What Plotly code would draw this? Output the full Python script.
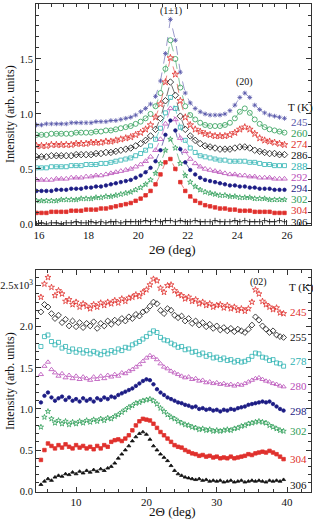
import plotly.graph_objects as go

# ---------------- top panel data (intensity in units of 1e4) ----------------
two_theta_top = [15.9, 16.1, 16.3, 16.5, 16.7, 16.9, 17.1, 17.3, 17.5, 17.7,
                 17.9, 18.1, 18.3, 18.5, 18.7, 18.9, 19.1, 19.3, 19.5, 19.7,
                 19.9, 20.1, 20.3, 20.5, 20.7, 20.9, 21.1, 21.3, 21.5, 21.7,
                 21.9, 22.1, 22.3, 22.5, 22.7, 22.9, 23.1, 23.3, 23.5, 23.7,
                 23.9, 24.1, 24.3, 24.5, 24.7, 24.9, 25.1, 25.3, 25.5, 25.7,
                 25.9]

top_T = ["245", "260", "274", "286", "288", "292", "294", "302", "304", "306"]

top_245 = [0.90, 0.90, 0.91, 0.91, 0.91, 0.91, 0.91, 0.92, 0.92, 0.92,
           0.92, 0.92, 0.93, 0.93, 0.93, 0.94, 0.94, 0.95, 0.96, 0.97,
           0.99, 1.02, 1.05, 1.09, 1.16, 1.30, 1.55, 1.86, 1.67, 1.38,
           1.19, 1.10, 1.05, 1.02, 1.00, 0.99, 0.99, 0.99, 1.00, 1.03,
           1.08, 1.15, 1.19, 1.15, 1.08, 1.04, 1.01, 0.99, 0.98, 0.97,
           0.96]
top_260 = [0.81, 0.81, 0.81, 0.82, 0.82, 0.82, 0.82, 0.82, 0.83, 0.83,
           0.83, 0.83, 0.84, 0.84, 0.85, 0.85, 0.86, 0.87, 0.88, 0.89,
           0.91, 0.93, 0.96, 1.00, 1.07, 1.19, 1.41, 1.67, 1.50, 1.24,
           1.07, 0.99, 0.95, 0.92, 0.90, 0.89, 0.89, 0.89, 0.90, 0.92,
           0.96, 1.02, 1.05, 1.01, 0.95, 0.91, 0.88, 0.86, 0.85, 0.84,
           0.83]
top_274 = [0.71, 0.71, 0.71, 0.72, 0.72, 0.72, 0.72, 0.72, 0.73, 0.73,
           0.73, 0.74, 0.74, 0.74, 0.75, 0.75, 0.76, 0.77, 0.78, 0.79,
           0.81, 0.83, 0.86, 0.90, 0.97, 1.09, 1.29, 1.51, 1.36, 1.12,
           0.97, 0.90, 0.86, 0.84, 0.82, 0.81, 0.80, 0.80, 0.80, 0.81,
           0.83, 0.86, 0.88, 0.86, 0.82, 0.78, 0.76, 0.75, 0.74, 0.73,
           0.72]
top_286 = [0.61, 0.61, 0.61, 0.62, 0.62, 0.62, 0.62, 0.62, 0.63, 0.63,
           0.63, 0.63, 0.64, 0.64, 0.65, 0.65, 0.66, 0.67, 0.68, 0.69,
           0.71, 0.73, 0.76, 0.80, 0.86, 0.96, 1.12, 1.29, 1.17, 0.98,
           0.86, 0.80, 0.76, 0.73, 0.71, 0.70, 0.69, 0.68, 0.68, 0.68,
           0.69, 0.70, 0.70, 0.69, 0.67, 0.66, 0.65, 0.64, 0.64, 0.63,
           0.63]
top_288 = [0.51, 0.51, 0.51, 0.52, 0.52, 0.52, 0.52, 0.53, 0.53, 0.53,
           0.54, 0.54, 0.54, 0.55, 0.55, 0.56, 0.57, 0.58, 0.59, 0.60,
           0.62, 0.64, 0.67, 0.71, 0.77, 0.87, 1.01, 1.15, 1.05, 0.88,
           0.76, 0.69, 0.65, 0.62, 0.61, 0.60, 0.59, 0.58, 0.58, 0.57,
           0.57, 0.57, 0.57, 0.56, 0.56, 0.55, 0.54, 0.54, 0.53, 0.53,
           0.53]
top_292 = [0.40, 0.40, 0.40, 0.40, 0.41, 0.41, 0.41, 0.42, 0.42, 0.42,
           0.43, 0.43, 0.44, 0.44, 0.45, 0.46, 0.47, 0.48, 0.49, 0.50,
           0.52, 0.54, 0.57, 0.61, 0.67, 0.77, 0.91, 1.05, 0.95, 0.78,
           0.66, 0.59, 0.55, 0.52, 0.50, 0.49, 0.48, 0.47, 0.46, 0.45,
           0.45, 0.44, 0.44, 0.43, 0.43, 0.42, 0.42, 0.42, 0.41, 0.41,
           0.41]
top_294 = [0.30, 0.30, 0.30, 0.30, 0.31, 0.31, 0.31, 0.32, 0.32, 0.32,
           0.33, 0.33, 0.34, 0.34, 0.35, 0.36, 0.37, 0.38, 0.39, 0.40,
           0.42, 0.44, 0.47, 0.51, 0.57, 0.67, 0.81, 0.94, 0.85, 0.68,
           0.56, 0.49, 0.45, 0.42, 0.40, 0.39, 0.38, 0.37, 0.36, 0.35,
           0.35, 0.34, 0.34, 0.33, 0.33, 0.32, 0.32, 0.32, 0.31, 0.31,
           0.31]
top_302 = [0.21, 0.21, 0.21, 0.21, 0.21, 0.22, 0.22, 0.22, 0.22, 0.23,
           0.23, 0.23, 0.24, 0.24, 0.25, 0.25, 0.26, 0.27, 0.28, 0.29,
           0.31, 0.33, 0.36, 0.40, 0.46, 0.55, 0.67, 0.77, 0.69, 0.55,
           0.44, 0.38, 0.34, 0.31, 0.29, 0.28, 0.27, 0.26, 0.26, 0.25,
           0.25, 0.24, 0.24, 0.24, 0.23, 0.23, 0.23, 0.22, 0.22, 0.22,
           0.22]
top_304 = [0.10, 0.10, 0.10, 0.11, 0.11, 0.11, 0.11, 0.12, 0.12, 0.12,
           0.13, 0.13, 0.13, 0.14, 0.14, 0.15, 0.16, 0.17, 0.18, 0.19,
           0.21, 0.23, 0.26, 0.30, 0.36, 0.45, 0.56, 0.59, 0.50, 0.38,
           0.30, 0.25, 0.21, 0.19, 0.17, 0.16, 0.15, 0.14, 0.14, 0.13,
           0.13, 0.12, 0.12, 0.12, 0.11, 0.11, 0.11, 0.11, 0.10, 0.10,
           0.10]
top_306 = [0.00, 0.01, 0.00, 0.01, 0.01, 0.00, 0.01, 0.01, 0.02, 0.01,
           0.01, 0.02, 0.01, 0.02, 0.01, 0.02, 0.02, 0.01, 0.02, 0.02,
           0.02, 0.02, 0.03, 0.02, 0.03, 0.02, 0.03, 0.03, 0.02, 0.03,
           0.02, 0.02, 0.03, 0.02, 0.02, 0.02, 0.03, 0.02, 0.02, 0.02,
           0.03, 0.02, 0.03, 0.02, 0.02, 0.02, 0.03, 0.02, 0.02, 0.03,
           0.02]

top_label_y = [0.925, 0.83, 0.73, 0.63, 0.53, 0.43, 0.33, 0.23, 0.13, 0.02]

# ---------------- bottom panel data (intensity in units of 1e3) ----------------
two_theta_bot = [5.0, 5.5, 6.0, 6.5, 7.0, 7.5, 8.0, 8.5, 9.0, 9.5,
                 10.0, 10.5, 11.0, 11.5, 12.0, 12.5, 13.0, 13.5, 14.0, 14.5,
                 15.0, 15.5, 16.0, 16.5, 17.0, 17.5, 18.0, 18.5, 19.0, 19.5,
                 20.0, 20.5, 21.0, 21.5, 22.0, 22.5, 23.0, 23.5, 24.0, 24.5,
                 25.0, 25.5, 26.0, 26.5, 27.0, 27.5, 28.0, 28.5, 29.0, 29.5,
                 30.0, 30.5, 31.0, 31.5, 32.0, 32.5, 33.0, 33.5, 34.0, 34.5,
                 35.0, 35.5, 36.0, 36.5, 37.0, 37.5, 38.0, 38.5, 39.0, 39.5]

bot_T = ["245", "255", "278", "280", "298", "302", "304", "306"]

bot_245 = [2.36, 2.52, 2.60, 2.48, 2.38, 2.44, 2.40, 2.31, 2.33, 2.27,
           2.30, 2.24, 2.28, 2.25, 2.22, 2.27, 2.24, 2.29, 2.26, 2.30,
           2.28, 2.32, 2.29, 2.34, 2.31, 2.35, 2.36, 2.39, 2.37, 2.42,
           2.45, 2.51, 2.58, 2.56, 2.47, 2.42, 2.50, 2.51, 2.44, 2.40,
           2.38, 2.34, 2.36, 2.31, 2.33, 2.28, 2.30, 2.26, 2.28, 2.24,
           2.26, 2.27, 2.23, 2.26, 2.22, 2.24, 2.20, 2.22, 2.19, 2.22,
           2.30, 2.45, 2.40, 2.31, 2.27, 2.24, 2.21, 2.23, 2.17, 2.16]
bot_255 = [2.18, 2.27, 2.24, 2.16, 2.10, 2.14, 2.05, 2.09, 2.01, 2.07,
           2.00, 2.05, 1.99, 2.04, 2.01, 2.06, 1.98, 2.04, 2.01, 2.07,
           2.03, 2.08, 2.05, 2.10, 2.07, 2.12, 2.10, 2.15, 2.13, 2.18,
           2.20, 2.25, 2.30, 2.28, 2.20, 2.16, 2.22, 2.20, 2.14, 2.11,
           2.13, 2.07, 2.10, 2.04, 2.07, 2.02, 2.05, 2.00, 2.03, 1.98,
           2.01, 1.96, 1.99, 1.95, 1.98, 1.94, 1.97, 1.95, 1.93, 1.97,
           2.02, 2.12, 2.08, 2.01, 1.97, 1.93, 1.95, 1.90, 1.88, 1.87]
bot_278 = [1.76, 1.88, 1.90, 1.82, 1.78, 1.81, 1.74, 1.76, 1.70, 1.73,
           1.69, 1.72, 1.68, 1.71, 1.67, 1.70, 1.68, 1.66, 1.70, 1.67,
           1.71, 1.69, 1.73, 1.71, 1.75, 1.74, 1.78, 1.80, 1.82, 1.85,
           1.88, 1.92, 1.95, 1.93, 1.87, 1.84, 1.83, 1.80, 1.78, 1.75,
           1.76, 1.72, 1.73, 1.69, 1.70, 1.66, 1.68, 1.64, 1.66, 1.62,
           1.63, 1.60, 1.62, 1.59, 1.60, 1.57, 1.59, 1.57, 1.58, 1.60,
           1.64, 1.68, 1.67, 1.63, 1.62, 1.59, 1.60, 1.56, 1.55, 1.52]
bot_280 = [1.42, 1.52, 1.57, 1.48, 1.44, 1.40, 1.43, 1.38, 1.41, 1.37,
           1.40, 1.36, 1.39, 1.37, 1.35, 1.39, 1.36, 1.40, 1.37, 1.41,
           1.39, 1.42, 1.40, 1.44, 1.43, 1.46, 1.48, 1.51, 1.54, 1.58,
           1.62, 1.65, 1.63, 1.60, 1.55, 1.51, 1.49, 1.46, 1.44, 1.42,
           1.40, 1.38, 1.39, 1.36, 1.37, 1.34, 1.35, 1.32, 1.33, 1.31,
           1.32, 1.30, 1.31, 1.29, 1.30, 1.28, 1.30, 1.29, 1.31, 1.33,
           1.35, 1.37, 1.38, 1.36, 1.34, 1.33, 1.31, 1.30, 1.28, 1.27]
bot_298 = [1.08, 1.16, 1.20, 1.14, 1.10, 1.13, 1.15, 1.11, 1.14, 1.10,
           1.12, 1.09, 1.13, 1.10, 1.12, 1.09, 1.13, 1.11, 1.14, 1.12,
           1.15, 1.14, 1.17, 1.19, 1.21, 1.23, 1.25, 1.28, 1.31, 1.34,
           1.36, 1.35, 1.30, 1.24, 1.20, 1.17, 1.14, 1.12, 1.10, 1.08,
           1.07, 1.05, 1.04, 1.02, 1.03, 1.00, 1.01, 0.99, 1.00, 0.98,
           0.99, 0.97, 0.99, 0.98, 1.00, 0.99, 1.01, 1.02, 1.03, 1.05,
           1.06, 1.07, 1.08, 1.09, 1.08, 1.09, 1.06, 1.03, 1.00, 0.98]
bot_302 = [0.78, 0.90, 0.97, 0.88, 0.83, 0.86, 0.82, 0.85, 0.81, 0.84,
           0.82, 0.85, 0.83, 0.86, 0.84, 0.87, 0.85, 0.88, 0.86, 0.89,
           0.88, 0.91, 0.93, 0.96, 0.99, 1.02, 1.04, 1.07, 1.08, 1.10,
           1.11, 1.12, 1.10, 1.06, 1.01, 0.97, 0.93, 0.90, 0.88, 0.85,
           0.83, 0.81, 0.80, 0.78, 0.77, 0.75, 0.76, 0.74, 0.75, 0.73,
           0.74, 0.73, 0.74, 0.75, 0.74, 0.76, 0.77, 0.79, 0.80, 0.82,
           0.83, 0.84, 0.85, 0.84, 0.83, 0.80, 0.78, 0.76, 0.74, 0.73]
bot_304 = [0.38, 0.50, 0.58, 0.55, 0.52, 0.56, 0.53, 0.57, 0.54, 0.52,
           0.56, 0.53, 0.55, 0.52, 0.54, 0.51, 0.55, 0.52, 0.56, 0.54,
           0.60, 0.62, 0.63, 0.61, 0.64, 0.68, 0.74, 0.80, 0.85, 0.88,
           0.87, 0.86, 0.82, 0.77, 0.72, 0.68, 0.64, 0.60, 0.56, 0.54,
           0.53, 0.50, 0.48, 0.46, 0.45, 0.43, 0.44, 0.42, 0.43, 0.41,
           0.42, 0.40, 0.41, 0.40, 0.42, 0.40, 0.41, 0.42, 0.43, 0.45,
           0.44, 0.46, 0.47, 0.48, 0.47, 0.49, 0.47, 0.45, 0.42, 0.39]
bot_306 = [0.08, 0.12, 0.15, 0.13, 0.17, 0.19, 0.18, 0.21, 0.20, 0.23,
           0.21, 0.24, 0.22, 0.25, 0.23, 0.26, 0.24, 0.27, 0.25, 0.28,
           0.30, 0.34, 0.40, 0.45, 0.50, 0.55, 0.61, 0.66, 0.70, 0.72,
           0.69, 0.63, 0.55, 0.50, 0.45, 0.41, 0.37, 0.31, 0.25, 0.21,
           0.19, 0.17, 0.16, 0.15, 0.14, 0.15, 0.13, 0.14, 0.12, 0.13,
           0.12, 0.13, 0.11, 0.12, 0.13, 0.11, 0.12, 0.13, 0.11, 0.12,
           0.13, 0.12, 0.13, 0.12, 0.11, 0.13, 0.12, 0.13, 0.12, 0.14]

bot_label_y = [2.18, 1.87, 1.58, 1.28, 0.97, 0.73, 0.39, 0.07]

top_ticks = [0, 0.5, 1.0, 1.5, 2.0]
top_ticktext = ["0.0", "0.5", "1.0", "1.5", "2.0x10<sup>4</sup>"]
bot_ticks = [0, 0.5, 1.0, 1.5, 2.0, 2.5]
bot_ticktext = ["0.0", "0.5", "1.0", "1.5", "2.0", "2.5x10<sup>3</sup>"]

# ---------------- styles ----------------
NAVY = "#1c1c84"
SLATE = "#5656a8"
GREEN = "#2f9e58"
RED = "#e0302c"
CYAN = "#2cb2b2"
MAGENTA = "#b84cb8"
BLACK = "#111111"

top_series = [top_245, top_260, top_274, top_286, top_288,
              top_292, top_294, top_302, top_304, top_306]
top_style = [
    (SLATE, "asterisk-open", 4),
    (GREEN, "circle-open", 5),
    (RED, "star-open", 5),
    (BLACK, "diamond-open", 5),
    (CYAN, "square-open", 4),
    (MAGENTA, "triangle-up-open", 5),
    (NAVY, "circle", 3.5),
    (GREEN, "star-open", 4),
    (RED, "square", 3.5),
    (BLACK, "cross-thin-open", 4),
]

bot_series = [bot_245, bot_255, bot_278, bot_280,
              bot_298, bot_302, bot_304, bot_306]
bot_style = [
    (RED, "star-open", 4.5),
    (BLACK, "diamond-open", 4.5),
    (CYAN, "square-open", 4),
    (MAGENTA, "triangle-up-open", 4.5),
    (NAVY, "circle", 3.5),
    (GREEN, "star-open", 4),
    (RED, "square", 3.5),
    (BLACK, "triangle-up", 3.5),
]

FONT = "Liberation Serif, Times New Roman, serif"

W, H = 313, 522
ML, MR, MT, MB = 36, 2, 4, 30
H_PLOT = H - MT - MB
W_PLOT = W - ML - MR


def py(pix):
    return (H - MB - pix) / H_PLOT


def px(pix):
    return (pix - ML) / W_PLOT


fig = go.Figure()

for ys, (c, sym, sz) in zip(top_series, top_style):
    fig.add_trace(go.Scatter(
        x=two_theta_top, y=ys, mode="lines+markers",
        line=dict(color=c, width=0.6, dash="dash"),
        marker=dict(symbol=sym, size=sz, color=c, line=dict(color=c, width=0.8)),
        xaxis="x", yaxis="y", showlegend=False, hoverinfo="skip"))

for ys, (c, sym, sz) in zip(bot_series, bot_style):
    fig.add_trace(go.Scatter(
        x=two_theta_bot, y=ys, mode="markers",
        marker=dict(symbol=sym, size=sz, color=c, line=dict(color=c, width=0.8)),
        xaxis="x2", yaxis="y2", showlegend=False, hoverinfo="skip"))

annotations = []
for t, yv, (c, _, _) in zip(top_T, top_label_y, top_style):
    annotations.append(dict(x=26.52, y=yv, xref="x", yref="y", text=t,
                            xanchor="center", yanchor="middle",
                            showarrow=False, font=dict(size=11, color=c, family=FONT)))
for t, yv, (c, _, _) in zip(bot_T, bot_label_y, bot_style):
    annotations.append(dict(x=41.6, y=yv, xref="x2", yref="y2", text=t,
                            xanchor="center", yanchor="middle",
                            showarrow=False, font=dict(size=11, color=c, family=FONT)))

annotations += [
    dict(x=26.56, y=1.055, xref="x", yref="y", text="T (K)", showarrow=False,
         xanchor="center", yanchor="middle",
         font=dict(size=11, color=BLACK, family=FONT)),
    dict(x=21.32, y=1.94, xref="x", yref="y", text="(1±1)", showarrow=False,
         xanchor="center", yanchor="middle",
         font=dict(size=10, color=BLACK, family=FONT)),
    dict(x=24.3, y=1.29, xref="x", yref="y", text="(20)", showarrow=False,
         xanchor="center", yanchor="middle",
         font=dict(size=10, color=BLACK, family=FONT)),
    dict(x=42.1, y=2.48, xref="x2", yref="y2", text="T (K)", showarrow=False,
         xanchor="center", yanchor="middle",
         font=dict(size=11, color=BLACK, family=FONT)),
    dict(x=35.9, y=2.55, xref="x2", yref="y2", text="(02)", showarrow=False,
         xanchor="center", yanchor="middle",
         font=dict(size=10, color=BLACK, family=FONT)),
    dict(x=px(172), y=py(250), xref="paper", yref="paper", text="2Θ (deg)",
         xanchor="center", yanchor="middle",
         showarrow=False, font=dict(size=13, color=BLACK, family=FONT)),
    dict(x=px(172), y=py(512), xref="paper", yref="paper", text="2Θ (deg)",
         xanchor="center", yanchor="middle",
         showarrow=False, font=dict(size=13, color=BLACK, family=FONT)),
    dict(x=px(10), y=py(114), xref="paper", yref="paper",
         xanchor="center", yanchor="middle",
         text="Intensity (arb. units)", textangle=-90, showarrow=False,
         font=dict(size=12, color=BLACK, family=FONT)),
    dict(x=px(10), y=py(381), xref="paper", yref="paper",
         xanchor="center", yanchor="middle",
         text="Intensity (arb. units)", textangle=-90, showarrow=False,
         font=dict(size=12, color=BLACK, family=FONT)),
]

axis_common = dict(showline=True, linecolor="#333", linewidth=1, mirror="allticks",
                   ticks="inside", ticklen=5, tickcolor="#333", showgrid=False,
                   zeroline=False, automargin=False)
xtickfont = dict(size=11, color=BLACK, family=FONT)
ytickfont = dict(size=10.5, color=BLACK, family=FONT)

fig.update_layout(
    template="none",
    width=W, height=H,
    margin=dict(l=ML, r=MR, t=MT, b=MB, autoexpand=False),
    paper_bgcolor="white", plot_bgcolor="white",
    font=dict(family=FONT, color=BLACK),
    annotations=annotations,
    xaxis=dict(domain=[0, 1], anchor="y", range=[15.88, 26.97],
               tickvals=[16, 18, 20, 22, 24, 26], tickfont=xtickfont,
               minor=dict(dtick=0.5, tick0=16, ticks="inside", ticklen=3, tickcolor="#333"),
               **axis_common),
    yaxis=dict(domain=[py(225), 1], anchor="x", range=[-0.01, 2.0],
               tickvals=top_ticks, ticktext=top_ticktext, tickfont=ytickfont,
               minor=dict(dtick=0.1, tick0=0, ticks="inside", ticklen=3, tickcolor="#333"),
               **axis_common),
    xaxis2=dict(domain=[0, 1], anchor="y2", range=[4.3, 43.4],
                tickvals=[10, 20, 30, 40], tickfont=xtickfont,
                minor=dict(dtick=2, tick0=0, ticks="inside", ticklen=3, tickcolor="#333"),
                **axis_common),
    yaxis2=dict(domain=[0, py(270)], anchor="x2", range=[-0.01, 2.69],
                tickvals=bot_ticks, ticktext=bot_ticktext, tickfont=ytickfont,
                minor=dict(dtick=0.1, tick0=0, ticks="inside", ticklen=3, tickcolor="#333"),
                **axis_common),
)

fig.write_html("out.html",
               config={"displayModeBar": False, "staticPlot": True},
               post_script="document.body.style.margin='0';document.body.style.overflow='hidden';")
